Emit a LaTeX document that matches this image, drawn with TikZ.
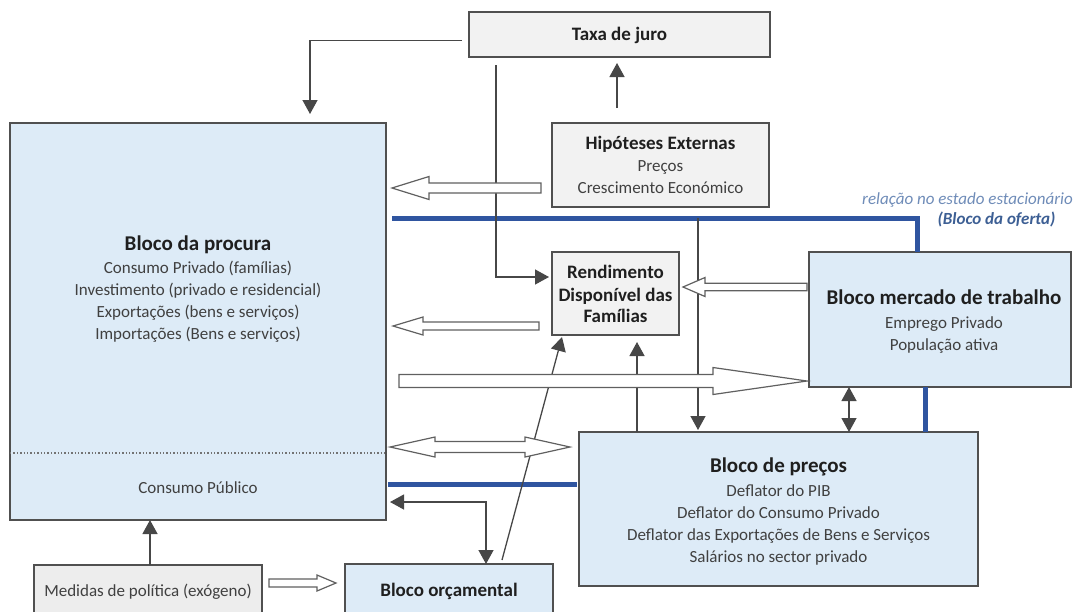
\documentclass[tikz,border=0pt]{standalone}
\usepackage{fontspec}
\setmainfont{Carlito}
\usetikzlibrary{arrows.meta,calc}
\definecolor{bfill}{HTML}{DDEBF7}
\definecolor{gfill}{HTML}{F2F2F2}
\definecolor{mfill}{HTML}{EDEDED}
\definecolor{edge}{HTML}{505050}
\definecolor{linec}{HTML}{474747}
\definecolor{hollowc}{HTML}{606060}
\definecolor{bluec}{HTML}{2F55A0}
\definecolor{txtc}{HTML}{404040}
\definecolor{lblc}{HTML}{6F8CB8}
\definecolor{lblb}{HTML}{3D5F94}
% hollow block arrows: #1 tail, #2 tip, #3 head length, #4 shaft half width, #5 head half width
\newcommand\hollowRight[5]{\draw[hollow] let \p1=#1, \p2=#2 in
  (\x1,\y2+#4pt) -- (\x2-#3pt,\y2+#4pt) -- (\x2-#3pt,\y2+#5pt) -- (\x2,\y2)
  -- (\x2-#3pt,\y2-#5pt) -- (\x2-#3pt,\y2-#4pt) -- (\x1,\y2-#4pt) -- cycle;}
\newcommand\hollowLeft[5]{\draw[hollow] let \p1=#1, \p2=#2 in
  (\x1,\y2+#4pt) -- (\x2+#3pt,\y2+#4pt) -- (\x2+#3pt,\y2+#5pt) -- (\x2,\y2)
  -- (\x2+#3pt,\y2-#5pt) -- (\x2+#3pt,\y2-#4pt) -- (\x1,\y2-#4pt) -- cycle;}
\newcommand\hollowBoth[5]{\draw[hollow] let \p1=#1, \p2=#2 in
  (\x1,\y1) -- (\x1+#3pt,\y1+#5pt) -- (\x1+#3pt,\y1+#4pt) -- (\x2-#3pt,\y1+#4pt)
  -- (\x2-#3pt,\y1+#5pt) -- (\x2,\y1) -- (\x2-#3pt,\y1-#5pt) -- (\x2-#3pt,\y1-#4pt)
  -- (\x1+#3pt,\y1-#4pt) -- (\x1+#3pt,\y1-#5pt) -- cycle;}
\begin{document}
\begin{tikzpicture}[x=1pt,y=-1pt,
  box/.style={draw=edge, line width=1.3pt, anchor=north west, inner sep=0pt, outer sep=0pt},
  bbox/.style={box, fill=bfill},
  gbox/.style={box, fill=gfill},
  ttl/.style={font=\fontsize{21}{24}\selectfont\bfseries, text=black!88, inner sep=0pt, anchor=base},
  ttls/.style={font=\fontsize{19}{22}\selectfont\bfseries, text=black!88, inner sep=0pt, anchor=base},
  txt/.style={font=\fontsize{17}{20}\selectfont, text=txtc, inner sep=0pt, anchor=base},
  conn/.style={draw=linec, line width=1.3pt, -{Triangle[length=14pt,width=15pt]}},
  conn2/.style={draw=linec, line width=1.3pt, {Triangle[length=14pt,width=15pt]}-{Triangle[length=14pt,width=15pt]}},
  hollow/.style={draw=hollowc, line width=1.2pt, fill=white},
  blueline/.style={draw=bluec, line width=5pt}]
\useasboundingbox (0,0) rectangle (1073,611);
\clip (0,0) rectangle (1073,611);

% boxes
\node[bbox, minimum width=376pt, minimum height=397pt] (procura) at (10,123) {};
\node[gbox, minimum width=217pt, minimum height=84pt] (hipo) at (552,123) {};
\node[gbox, minimum width=301pt, minimum height=45pt] (taxa) at (469,12) {};
\node[gbox, minimum width=127pt, minimum height=83pt] (rend) at (552,252) {};
\node[bbox, minimum width=262pt, minimum height=135pt] (merc) at (809,252) {};
\node[bbox, minimum width=399pt, minimum height=154pt] (precos) at (579,432) {};
\node[bbox, minimum width=208pt, minimum height=70pt] (orc) at (345,564) {};
\node[box, fill=mfill, minimum width=228pt, minimum height=70pt] (med) at (34,565) {};

% dotted separator in procura
\draw[draw=edge!80, line width=1.4pt, dash pattern=on 1.4pt off 2pt] ($(procura.south west)+(0,-67)$) -- ($(procura.south east)+(0,-67)$);

% texts
\node[ttl] (procT) at (198,250) {Bloco da procura};
\foreach \t [count=\i from 0] in {Consumo Privado (famílias),Investimento (privado e residencial),Exportações (bens e serviços),Importações (Bens e serviços)}
  \node[txt] (procL\i) at (198,{273+22.3*\i}) {\t};
\node[txt] (procP) at (198,493) {Consumo Público};

\node[ttls] (hipoT) at (660.5,149) {Hipóteses Externas};
\node[txt] (hipoL0) at (660.5,171) {Preços};
\node[txt] (hipoL1) at (660.5,193) {Crescimento Económico};

\node[ttls] (taxaT) at (619.5,40) {Taxa de juro};

\node[ttls] (rendL0) at (615.5,278) {Rendimento};
\node[ttls] (rendL1) at (615.5,301) {Disponível das};
\node[ttls] (rendL2) at (615.5,322) {Famílias};

\node[ttl] (mercT) at (944,304) {Bloco mercado de trabalho};
\node[txt] (mercL0) at (944,328) {Emprego Privado};
\node[txt] (mercL1) at (944,350) {População ativa};

\node[ttl] (precT) at (778.5,472) {Bloco de preços};
\foreach \t [count=\i from 0] in {Deflator do PIB,Deflator do Consumo Privado,Deflator das Exportações de Bens e Serviços,Salários no sector privado}
  \node[txt] (precL\i) at (778.5,{496+22*\i}) {\t};

\node[ttls] (orcT) at (449,596) {Bloco orçamental};
\node[txt] (medT) at (148,596) {Medidas de política (exógeno)};

\node[font=\fontsize{17}{20}\selectfont\itshape, text=lblc, inner sep=0pt, anchor=base east] (lbl1) at (1073,204) {relação no estado estacionário};
\node[font=\fontsize{17}{20}\selectfont\bfseries\itshape, text=lblb, inner sep=0pt, anchor=base] (lbl2) at (996.5,224) {(Bloco da oferta)};

% blue lines
\coordinate (bStart) at ($(procura.north east)+(6,95)$);
\coordinate (bTap) at ($(procura.north east)+(312,95)$);
\draw[blueline] (bStart) -| ($(merc.north west)+(108,0)$);
\draw[blueline] ($(merc.south west)+(116,0)$) -- ($(precos.north west)+(346,0)$);
\draw[blueline] ($(procura.south east)+(2,-36)$) -- ($(precos.north west)+(-2,52)$);

% solid connectors
\draw[conn] ($(taxa.west)+(-7,6)$) -| ($(procura.north west)+(300,-9)$);
\draw[conn] ($(taxa.south west)+(27,8)$) |- ($(rend.west)+(-3,-16.5)$);
\draw[conn] ($(hipo.north west)+(65,-15)$) -- ($(taxa.south west)+(148,6)$);
\draw[conn] (bTap) -- ($(precos.north west)+(119,-2)$);
\draw[conn] ($(precos.north west)+(58,0)$) -- ($(rend.south west)+(85,7)$);
\draw[conn] ($(orc.north west)+(157,-4)$) -- ($(rend.south west)+(10,2)$);
\draw[conn2] ($(procura.south east)+(4,-18)$) -| ($(orc.north west)+(141,0)$);
\draw[conn] ($(med.north west)+(116,0)$) -- ($(procura.south west)+(140,0)$);
\draw[conn2] ($(merc.south west)+(40,0)$) -- ($(precos.north west)+(270,0)$);

% hollow block arrows
\hollowLeft{($(hipo.west)+(-11,23)$)}{($(procura.north east)+(6,65)$)}{37}{5}{11.5}
\hollowLeft{($(merc.north west)+(-2,35)$)}{($(rend.north east)+(4,35)$)}{22}{3.8}{9.5}
\hollowLeft{($(rend.south west)+(-13,-9)$)}{($(procura.north east)+(7,203)$)}{30}{4}{9}
\hollowRight{($(procura.north east)+(13,258)$)}{($(merc.south west)+(-2,-6)$)}{94}{6.5}{13.5}
\hollowBoth{($(procura.north east)+(4,324)$)}{($(precos.north west)+(-9,15)$)}{45}{5.5}{10}
\hollowRight{($(med.north east)+(7,18)$)}{($(orc.north west)+(-9,19)$)}{19}{4}{8}
\end{tikzpicture}
\end{document}
